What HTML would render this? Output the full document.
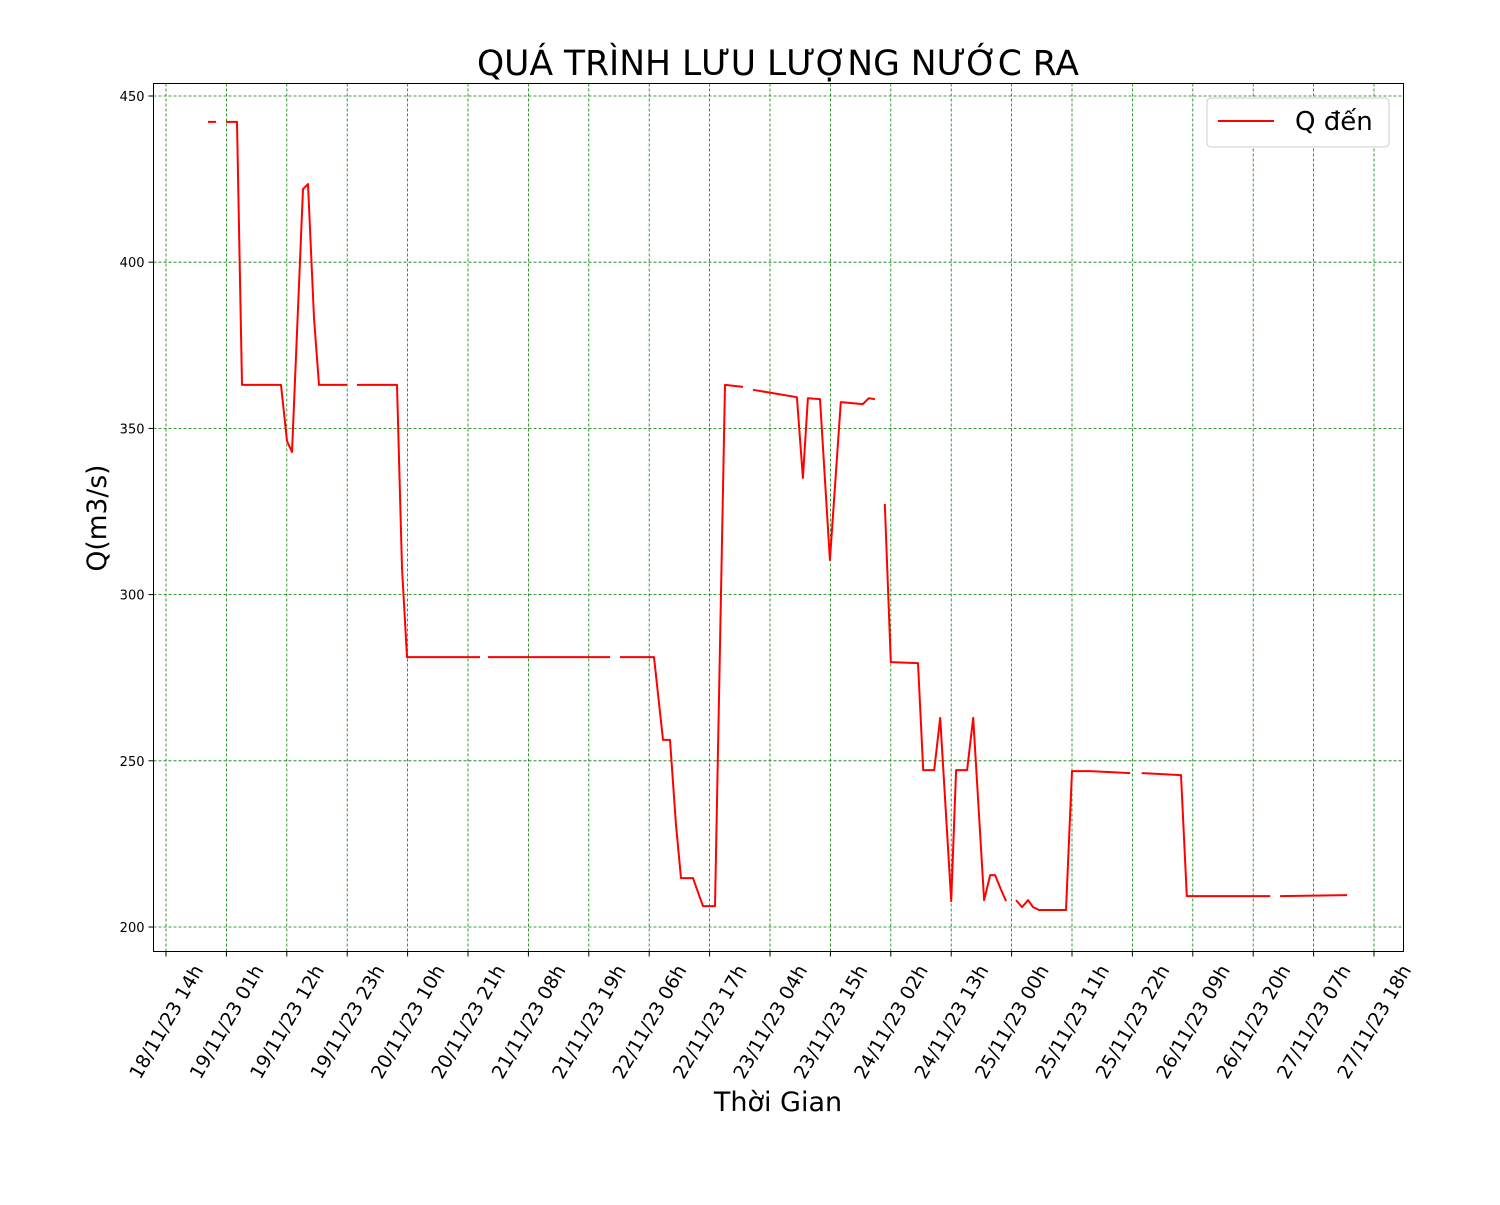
<!DOCTYPE html>
<html><head><meta charset="utf-8"><style>
body{margin:0;background:#fff;}
svg text{font-family:"DejaVu Sans","Liberation Sans",sans-serif;}
</style></head><body>
<svg id="chart" width="1500" height="1200" xmlns="http://www.w3.org/2000/svg">
<rect width="1500" height="1200" fill="#fff"/>
<text x="778" y="75" font-size="34.5" text-anchor="middle">QUÁ TRÌNH LƯU LƯỢNG NƯỚC RA</text>
<g id="grid"></g>
<g id="axes"></g>
<g id="series"></g>
<rect x="153.5" y="83.5" width="1250" height="868" fill="none" stroke="#000" stroke-width="1"/>
<text transform="translate(106,518) rotate(-90)" font-size="26.5" text-anchor="middle">Q(m3/s)</text>
<text x="778" y="1111" font-size="27" text-anchor="middle">Thời Gian</text>
<g>
<rect x="1207" y="98" width="182" height="49" rx="4" fill="#fff" stroke="#ccc"/>
<line x1="1218" y1="121" x2="1274" y2="121" stroke="red" stroke-width="2"/>
<text x="1295" y="130" font-size="26">Q đến</text>
</g>
</svg>
<script>
const xTickLabels=["18/11/23 14h","19/11/23 01h","19/11/23 12h","19/11/23 23h","20/11/23 10h","20/11/23 21h","21/11/23 08h","21/11/23 19h","22/11/23 06h","22/11/23 17h","23/11/23 04h","23/11/23 15h","24/11/23 02h","24/11/23 13h","25/11/23 00h","25/11/23 11h","25/11/23 22h","26/11/23 09h","26/11/23 20h","27/11/23 07h","27/11/23 18h"];
const yTicks=[200,250,300,350,400,450];
// hours since 18/11/23 14h; null = gap
const hours=[7.65,9.1,null,10.93,12.93,13.84,20.94,22.04,22.95,24.95,25.86,26.95,27.86,32.96,null,34.78,42.07,42.98,43.89,57.18,null,58.64,80.86,null,82.68,88.87,90.51,91.79,92.88,93.79,95.97,97.07,97.8,99.98,101.8,105.08,null,106.9,114.9,116.0,116.9,119.1,120.9,122.9,126.9,128.0,129.1,null,130.9,132.0,136.95,137.9,139.9,141.0,143.0,143.9,145.9,147.0,149.0,150.1,151.0,152.1,153.0,null,154.8,155.9,157.0,157.9,159.0,163.9,165.0,168.3,175.6,null,177.7,184.85,185.9,201.1,null,202.9,215.1];
const flows=[442.2,442.2,null,442.2,442.2,363.1,363.1,346.2,342.9,422.0,423.5,383.2,363.1,363.1,null,363.1,363.1,308.0,281.2,281.2,null,281.2,281.2,null,281.2,281.2,256.3,256.3,230.7,214.7,214.7,209.6,206.3,206.3,363.1,362.5,null,361.6,359.4,335.1,359.1,358.8,310.4,357.9,357.3,359.1,358.8,null,327.3,279.7,279.4,247.2,247.2,262.9,207.8,247.2,247.2,262.9,208.1,215.6,215.6,211.1,207.8,null,208.1,206.0,208.1,206.0,205.1,205.1,246.9,246.9,246.3,null,246.3,245.7,209.3,209.3,null,209.3,209.6];
const NS="http://www.w3.org/2000/svg";
const L=153.5,R=1403.5,T=83.5,B=951.5;
const xs=h=>166+h*(1208/220);
const ys=v=>927-(v-200)*(831/250);
function mk(tag,attrs,parent){const e=document.createElementNS(NS,tag);for(const k in attrs)e.setAttribute(k,attrs[k]);parent.appendChild(e);return e;}
const grid=document.getElementById('grid'),axes=document.getElementById('axes'),series=document.getElementById('series');
xTickLabels.forEach((lab,i)=>{
  const x=xs(i*11);
  const g=mk('line',{x1:x,y1:T,x2:x,y2:B,stroke:'green','stroke-width':0.8,'stroke-dasharray':'3,2'},grid);
  
  
  const t=mk('line',{x1:x,y1:B,x2:x,y2:B+5,stroke:'#000','stroke-width':1},axes);
  
  
  const tx=mk('text',{transform:`translate(${x+33},967) rotate(-60)`,'font-size':19,'text-anchor':'end','dominant-baseline':'middle'},axes);
  tx.textContent=lab;
  
  
});
yTicks.forEach(v=>{
  const y=ys(v);
  const g=mk('line',{x1:L,y1:y,x2:R,y2:y,stroke:'green','stroke-width':0.8,'stroke-dasharray':'3,2'},grid);
  
  
  const t=mk('line',{x1:L-5,y1:y,x2:L,y2:y,stroke:'#000','stroke-width':1},axes);
  
  
  const tx=mk('text',{x:L-9,y:y+5,'font-size':13,'text-anchor':'end'},axes);
  tx.textContent=v;
  
  
});
let d='',pen=false;
for(let i=0;i<hours.length;i++){
  if(hours[i]===null||flows[i]===null){pen=false;continue;}
  d+=(pen?'L':'M')+xs(hours[i]).toFixed(1)+','+ys(flows[i]).toFixed(1)+' ';pen=true;
}
const p=mk('path',{d:d,fill:'none',stroke:'red','stroke-width':2,'stroke-linejoin':'round'},series);


</script>
</body></html>
